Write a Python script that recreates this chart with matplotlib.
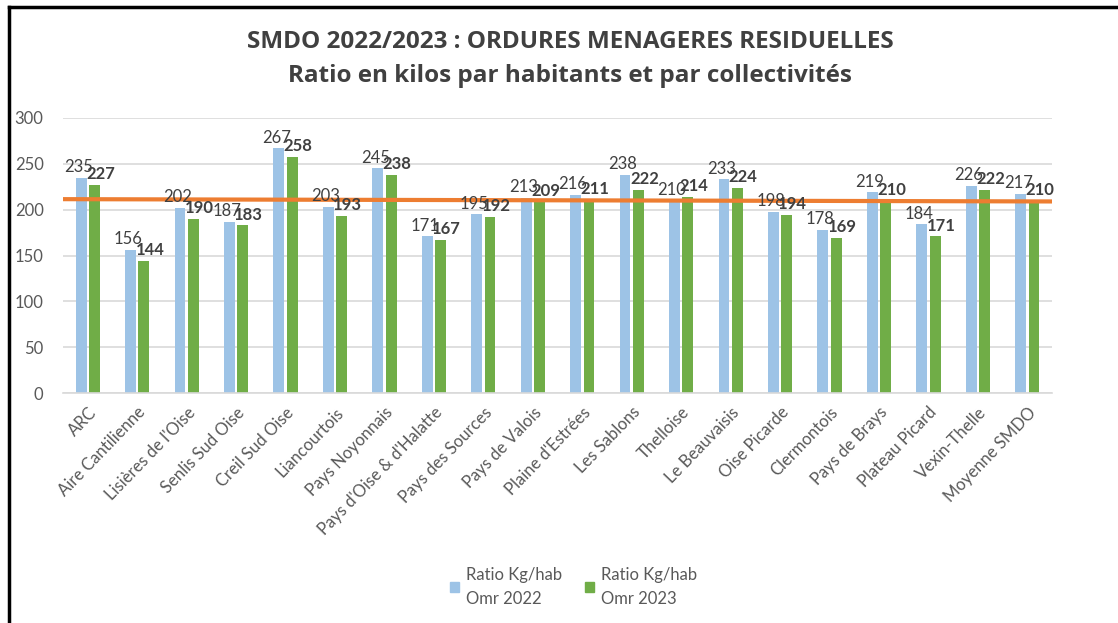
import matplotlib
matplotlib.use("Agg")
import matplotlib.pyplot as plt
import numpy as np
from matplotlib.lines import Line2D
from matplotlib.patches import Patch

categories = ["ARC", "Aire Cantilienne", "Lisières de l'Oise", "Senlis Sud Oise",
              "Creil Sud Oise", "Liancourtois", "Pays Noyonnais", "Pays d'Oise & d'Halatte",
              "Pays des Sources", "Pays de Valois", "Plaine d'Estrées", "Les Sablons",
              "Thelloise", "Le Beauvaisis", "Oise Picarde", "Clermontois", "Pays de Brays",
              "Plateau Picard", "Vexin-Thelle", "Moyenne SMDO"]
ratio_2022 = [235, 156, 202, 187, 267, 203, 245, 171, 195, 213, 216, 238, 210, 233,
              198, 178, 219, 184, 226, 217]
ratio_2023 = [227, 144, 190, 183, 258, 193, 238, 167, 192, 209, 211, 222, 214, 224,
              194, 169, 210, 171, 222, 210]
# hand-drawn average line (left end, right end)
avg_line = [211.5, 209]

c_blue = "#9DC3E6"
c_green = "#70AD47"
c_orange = "#ED7D31"
c_text = "#595959"
c_dark = "#404040"

plt.rcParams["font.family"] = ["Lato", "DejaVu Sans"]

fig = plt.figure(figsize=(11.18, 6.23), dpi=100)
ax = fig.add_axes([0.0564, 0.369, 0.8846, 0.4416])

x = np.arange(len(categories))
w = 0.22
off = 0.135
ax.bar(x - off, ratio_2022, w, color=c_blue, zorder=2)
ax.bar(x + off, ratio_2023, w, color=c_green, zorder=2)

for xi, v in zip(x, ratio_2022):
    ax.text(xi - off - 0.05, v + 3, str(v), ha="center", va="bottom",
            fontsize=12, color=c_dark, zorder=4)
for xi, v in zip(x, ratio_2023):
    ax.text(xi + off + 0.12, v + 3, str(v), ha="center", va="bottom",
            fontsize=12, color=c_dark, fontweight="bold", zorder=4)

ax.plot([-0.5, len(categories) - 0.5], avg_line, color=c_orange, lw=3, zorder=3)

ax.set_xlim(-0.5, len(categories) - 0.5)
ax.set_ylim(0, 300)
ax.set_yticks(range(0, 301, 50))
ax.yaxis.grid(True, color="#D9D9D9", lw=1.2, zorder=0)
ax.set_axisbelow(True)
for s in ["top", "right", "left"]:
    ax.spines[s].set_visible(False)
ax.spines["bottom"].set_color("#D9D9D9")
ax.spines["bottom"].set_linewidth(1.2)
ax.tick_params(axis="both", length=0, colors=c_text, labelsize=12)
ax.tick_params(axis="y", pad=14)
ax.set_xticks(x)
ax.set_xticklabels(categories, rotation=46, ha="right", rotation_mode="anchor")
ax.tick_params(axis="x", pad=8)

title_font = ["Open Sans", "DejaVu Sans"]
fig.text(0.51, 0.933, "SMDO 2022/2023 : ORDURES MENAGERES RESIDUELLES",
         ha="center", va="center", fontsize=17.5, fontweight="bold", color=c_dark,
         family=title_font)
fig.text(0.51, 0.878, "Ratio en kilos par habitants et par collectivités",
         ha="center", va="center", fontsize=17.5, fontweight="bold", color=c_dark,
         family=title_font)

handles = [Patch(color=c_blue), Patch(color=c_green)]
leg = fig.legend(handles, ["Ratio Kg/hab\nOmr 2022", "Ratio Kg/hab\nOmr 2023"],
                 loc="center", bbox_to_anchor=(0.513, 0.058), ncol=2, frameon=False,
                 fontsize=12, labelcolor=c_text, handlelength=0.55, handleheight=0.55,
                 handletextpad=0.4, columnspacing=1.4)
for t in leg.get_texts():
    t.set_linespacing(1.6)

# frame lines (left and top) like the screenshot
fig.add_artist(Line2D([0.008, 0.008], [0, 0.988], color="black", lw=2.5,
                      transform=fig.transFigure))
fig.add_artist(Line2D([0.008, 1.0], [0.988, 0.988], color="black", lw=2.5,
                      transform=fig.transFigure))

fig.savefig("out.png", dpi=100)
